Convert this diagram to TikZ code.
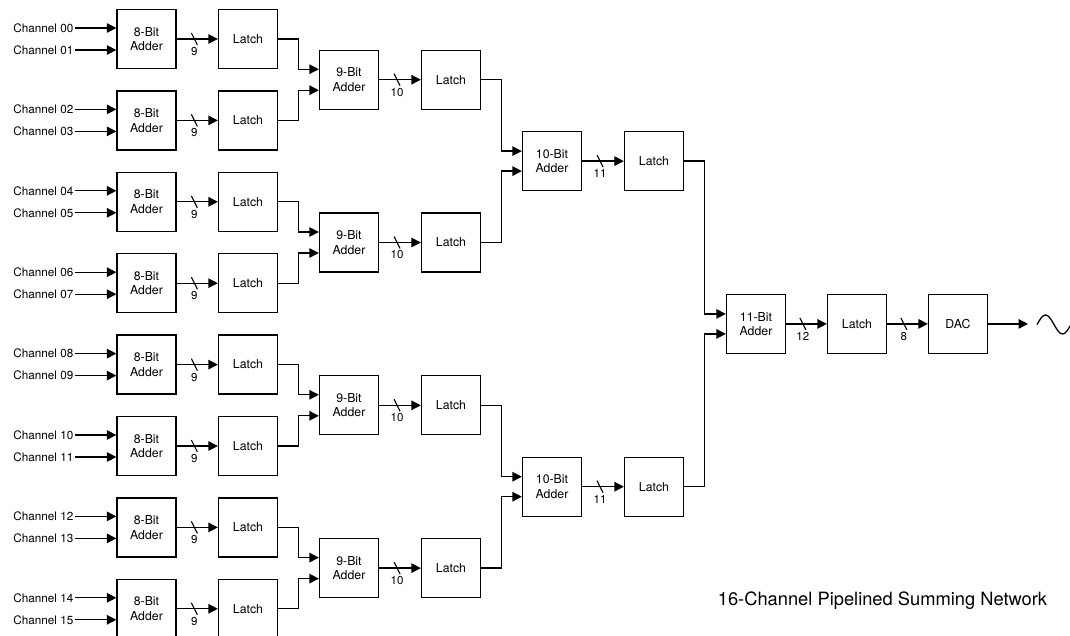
\documentclass[tikz,border=0pt]{standalone}
\usepackage{fontspec}
\setmainfont{TeX Gyre Heros}
\usetikzlibrary{arrows.meta,calc}
\newcommand\busline[4]{%
  \draw[arr] (#1.east) -- coordinate[pos=#4] (bt) (#2.west);
  \draw[slash] ($(bt)+(-3,-6)$) -- ($(bt)+(3,6)$);
  \node[bus] at ($(bt)+(0,12.5)$) {#3};
}
\begin{document}
\begin{tikzpicture}[x=1pt,y=-1pt,
  box/.style={draw, line width=1.3pt, minimum width=59pt, minimum height=59pt, inner sep=0pt, align=center, font=\fontsize{12.3}{14.5}\selectfont},
  arr/.style={line width=1.3pt, -{Triangle[length=9.5pt,width=9.5pt]}},
  wire/.style={line width=1.3pt},
  slash/.style={line width=1.1pt},
  chan/.style={anchor=east, inner sep=1.5pt, font=\fontsize{11.7}{14}\selectfont},
  bus/.style={font=\fontsize{11.5}{13}\selectfont, inner sep=0pt},
  title/.style={font=\fontsize{18.3}{22}\selectfont, inner sep=0pt}
]
\clip (0,0) rectangle (1070,636);
\useasboundingbox (0,0) rectangle (1070,636);
% level 0
\foreach \i in {0,...,7}{
  \pgfmathsetmacro\yy{39+81.4*\i}
  \pgfmathtruncatemacro\ca{2*\i}
  \pgfmathtruncatemacro\cb{2*\i+1}
  \node[box] (a0\i) at (146.5,\yy) {8-Bit\\Adder};
  \node[box] (l0\i) at (248,\yy) {Latch};
  \node[chan] (c\ca) at (75,\yy-11) {Channel \ifnum\ca<10 0\fi\ca};
  \node[chan] (c\cb) at (75,\yy+11) {Channel \ifnum\cb<10 0\fi\cb};
  \draw[arr] (c\ca.east) -- ($(a0\i.west)+(0,-11)$);
  \draw[arr] (c\cb.east) -- ($(a0\i.west)+(0,11)$);
  \busline{a0\i}{l0\i}{9}{0.43}
}
% level 1
\foreach \j in {0,...,3}{
  \pgfmathsetmacro\yy{79.7+162.8*\j}
  \pgfmathtruncatemacro\pa{2*\j}
  \pgfmathtruncatemacro\pb{2*\j+1}
  \node[box] (a1\j) at (349,\yy) {9-Bit\\Adder};
  \node[box] (l1\j) at (451,\yy) {Latch};
  \draw[arr] (l0\pa.east) -- ++(20,0) |- ($(a1\j.west)+(0,-10.5)$);
  \draw[arr] (l0\pb.east) -- ++(20,0) |- ($(a1\j.west)+(0,10.5)$);
  \busline{a1\j}{l1\j}{10}{0.43}
}
% level 2
\foreach \k in {0,1}{
  \pgfmathsetmacro\yy{161.1+325.6*\k}
  \pgfmathtruncatemacro\pa{2*\k}
  \pgfmathtruncatemacro\pb{2*\k+1}
  \node[box] (a2\k) at (552,\yy) {10-Bit\\Adder};
  \node[box] (l2\k) at (654,\yy) {Latch};
  \draw[arr] (l1\pa.east) -- ++(20,0) |- ($(a2\k.west)+(0,-10)$);
  \draw[arr] (l1\pb.east) -- ++(20,0) |- ($(a2\k.west)+(0,10)$);
  \busline{a2\k}{l2\k}{11}{0.43}
}
% level 3
\node[box] (a3) at (756,323.9) {11-Bit\\Adder};
\node[box] (l3) at (857,323.9) {Latch};
\node[box] (dac) at (958,323.9) {DAC};
\draw[arr] (l20.east) -- ++(20,0) |- ($(a3.west)+(0,-10)$);
\draw[arr] (l21.east) -- ++(20,0) |- ($(a3.west)+(0,10)$);
\busline{a3}{l3}{12}{0.41}
\busline{l3}{dac}{8}{0.41}
\coordinate (out) at (1028,323.9);
\draw[arr] (dac.east) -- (out);
\draw[wire] (1037,324.5) sin (1045.5,315) cos (1054,324.5) sin (1062.5,334) cos (1071,324.5);
\node[title] (t) at (882.5,601) {16-Channel Pipelined Summing Network};
\end{tikzpicture}
\end{document}
